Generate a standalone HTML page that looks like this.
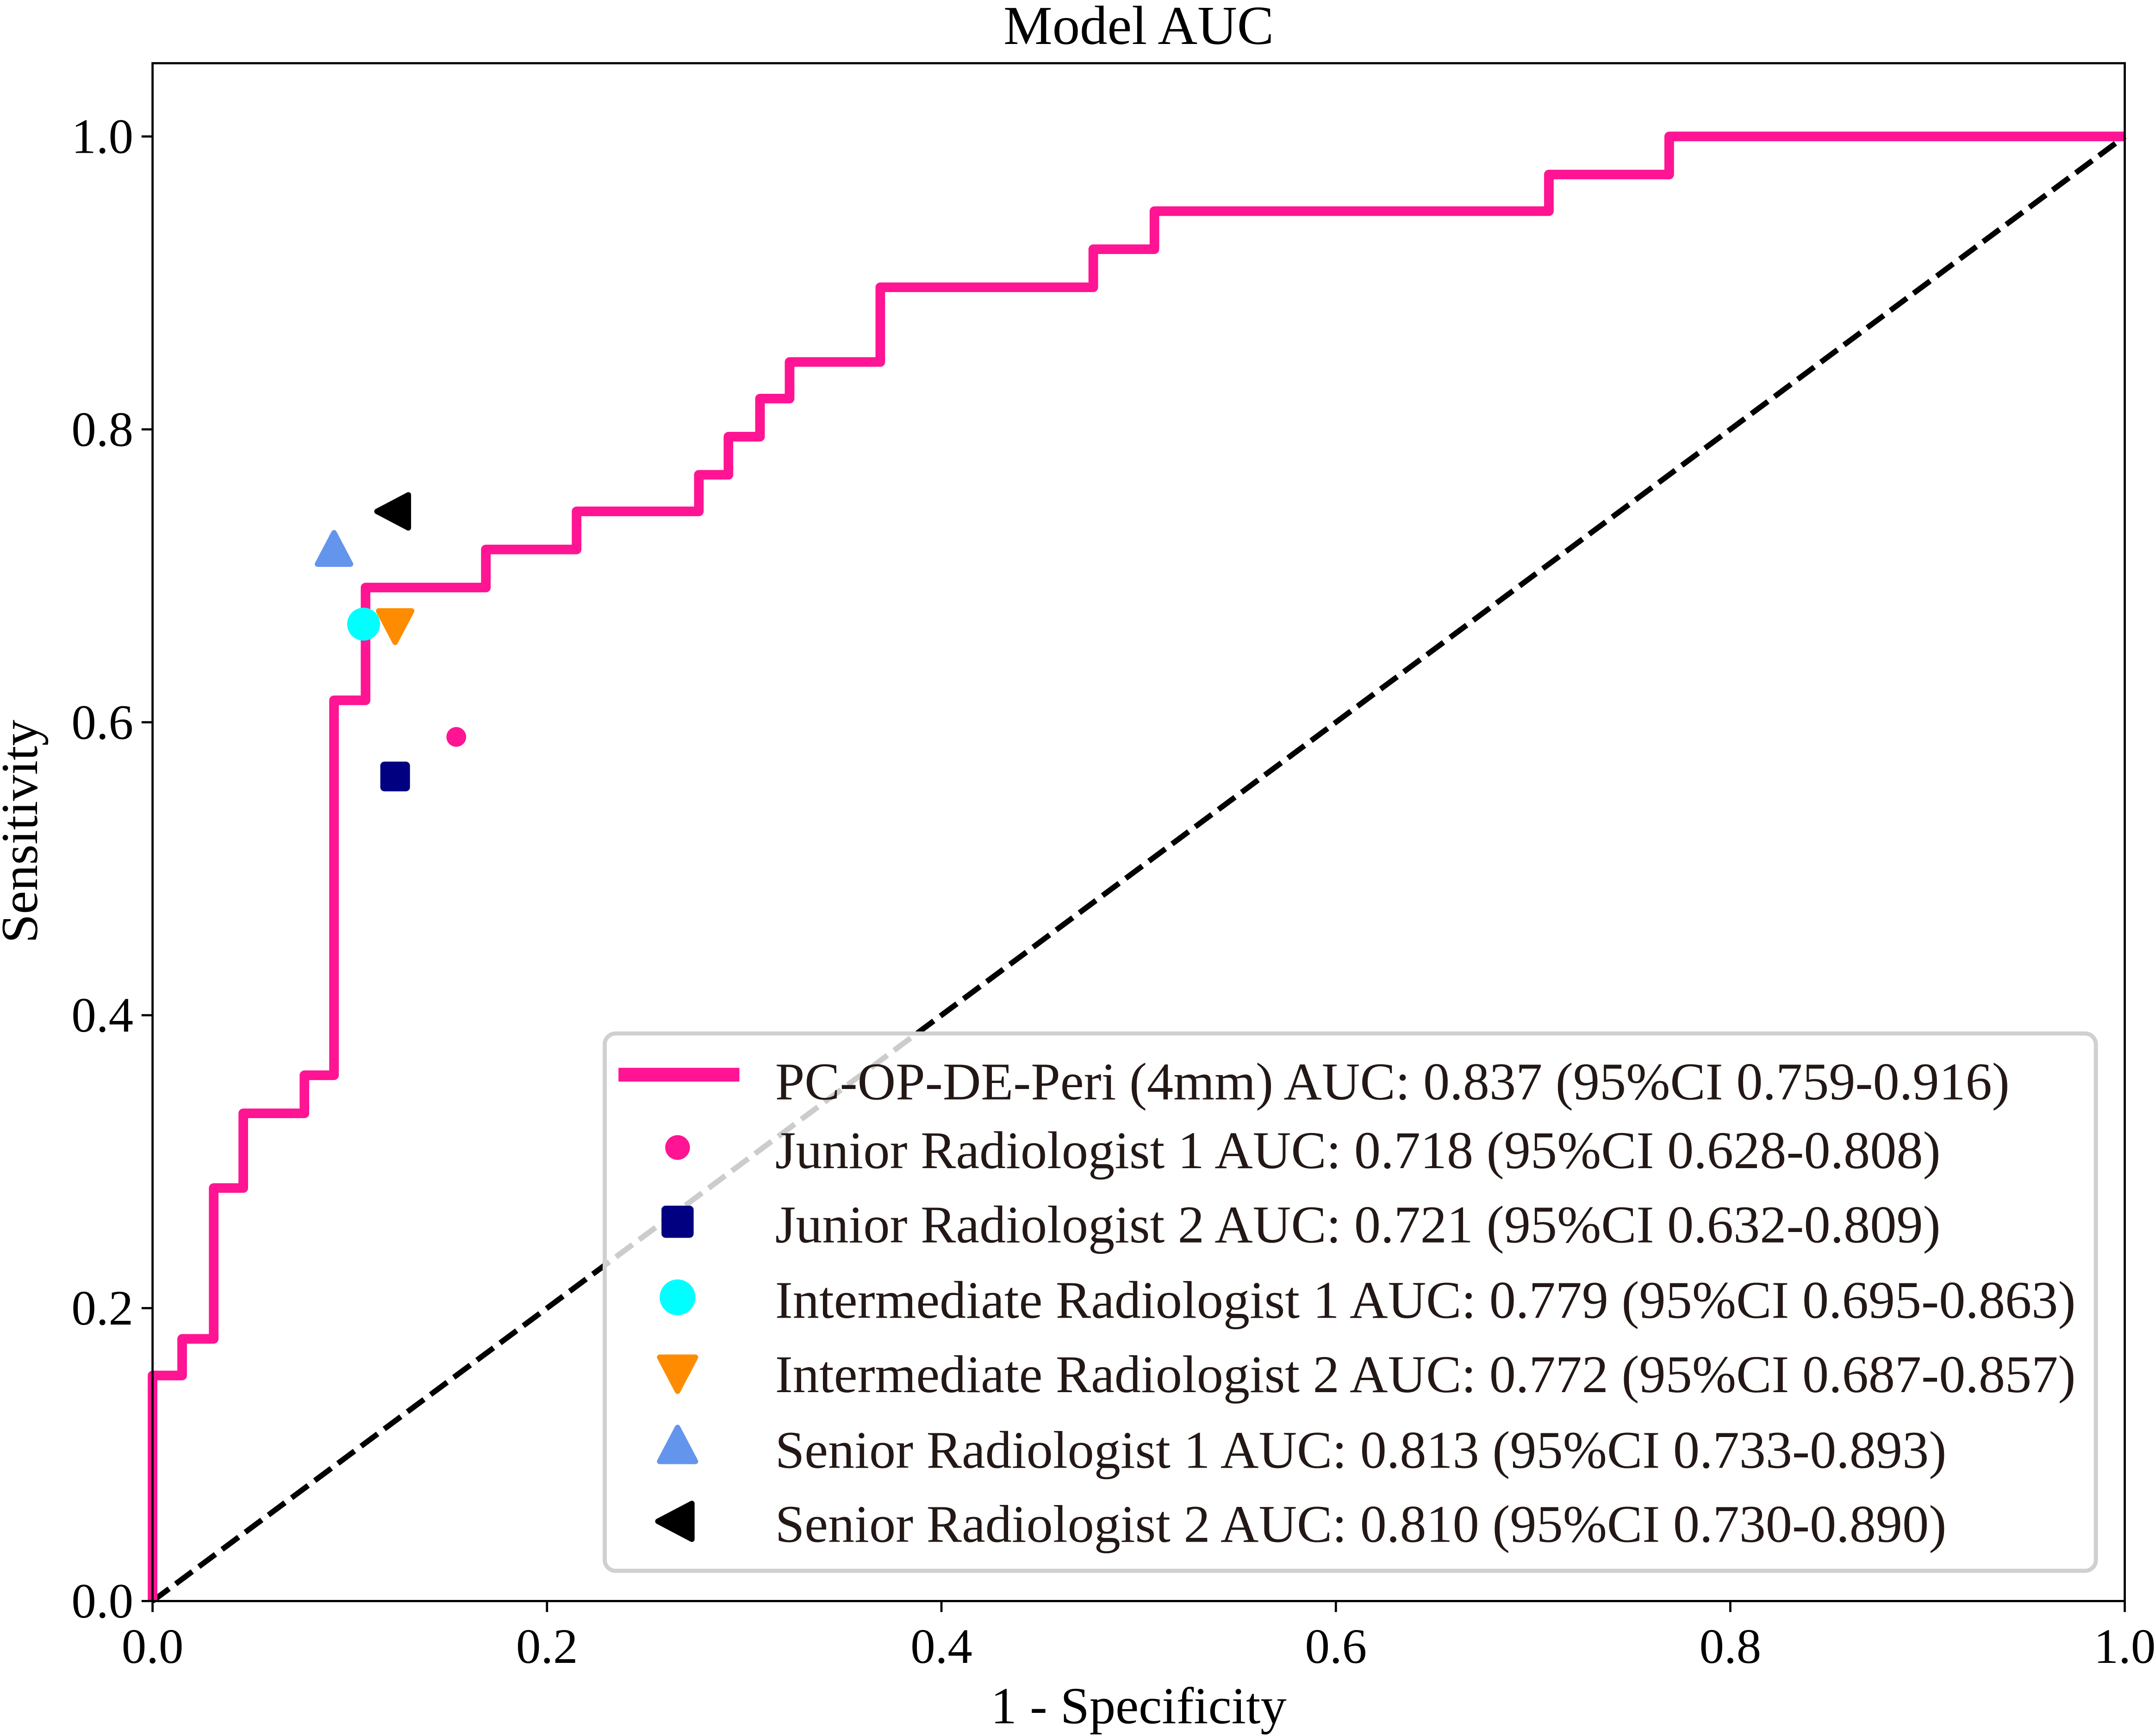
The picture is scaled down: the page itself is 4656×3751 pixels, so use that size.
<!DOCTYPE html>
<html><head><meta charset="utf-8"><style>
html,body{margin:0;padding:0;background:#fff;}
svg{display:block;font-family:"Liberation Serif",serif;}
</style></head><body>
<svg id="chart" width="4656" height="3751" viewBox="0 0 1568 1263.2" preserveAspectRatio="none" xmlns="http://www.w3.org/2000/svg">
<rect width="1568" height="1264" fill="#fff"/>
<g id="g"></g>
</svg>
<script>
const rocFpr=[0,0,0.015,0.015,0.031,0.031,0.046,0.046,0.077,0.077,0.092,0.092,0.108,0.108,0.169,0.169,0.215,0.215,0.277,0.277,0.292,0.292,0.308,0.308,0.323,0.323,0.369,0.369,0.477,0.477,0.508,0.508,0.708,0.708,0.769,0.769,1.0];
const rocTpr=[0,0.154,0.154,0.179,0.179,0.282,0.282,0.333,0.333,0.359,0.359,0.615,0.615,0.692,0.692,0.718,0.718,0.744,0.744,0.769,0.769,0.795,0.795,0.821,0.821,0.846,0.846,0.897,0.897,0.923,0.923,0.949,0.949,0.974,0.974,1.0,1.0];
const readerNames=["Junior Radiologist 1 AUC: 0.718 (95%CI 0.628-0.808)","Junior Radiologist 2 AUC: 0.721 (95%CI 0.632-0.809)","Intermediate Radiologist 1 AUC: 0.779 (95%CI 0.695-0.863)","Intermediate Radiologist 2 AUC: 0.772 (95%CI 0.687-0.857)","Senior Radiologist 1 AUC: 0.813 (95%CI 0.733-0.893)","Senior Radiologist 2 AUC: 0.810 (95%CI 0.730-0.890)"];
const readerFpr=[0.154,0.123,0.107,0.123,0.092,0.123];
const readerTpr=[0.590,0.563,0.667,0.667,0.717,0.744];
const readerColors=["#FF1493","#000080","#00FFFF","#FF8C00","#6495ED","#000000"];
const readerShapes=["smallcircle","square","circle","down","up","left"];
const modelLabel="PC-OP-DE-Peri (4mm) AUC: 0.837 (95%CI 0.759-0.916)";
const ticks=[0,0.2,0.4,0.6,0.8,1.0];
const tickLabels=["0.0","0.2","0.4","0.6","0.8","1.0"];

const L=111,R=1546,T=46,B=1165;
const X=v=>L+v*(R-L);
const Y=v=>B-v/1.05*(B-T);
const NS="http://www.w3.org/2000/svg";
const g=document.getElementById('g');
function el(tag,attrs,parent){const e=document.createElementNS(NS,tag);for(const k in attrs)e.setAttribute(k,attrs[k]);(parent||g).appendChild(e);return e;}
function txt(s,attrs){const e=el('text',attrs);e.textContent=s;return e;}
function marker(shape,cx,cy,color,s){
  let e;
  if(shape==="smallcircle")e=el('circle',{cx,cy,r:s*0.6,fill:color});
  else if(shape==="circle")e=el('circle',{cx,cy,r:s,fill:color});
  else if(shape==="square")e=el('rect',{x:cx-s*0.9,y:cy-s*0.9,width:s*1.8,height:s*1.8,rx:3,fill:color});
  else{let p;
    if(shape==="down")p=[[cx-s,cy-s*0.8],[cx+s,cy-s*0.8],[cx,cy+s*1.1]];
    else if(shape==="up")p=[[cx-s,cy+s*0.8],[cx+s,cy+s*0.8],[cx,cy-s*1.1]];
    else p=[[cx+s*0.8,cy-s],[cx+s*0.8,cy+s],[cx-s*1.1,cy]];
    e=el('polygon',{points:p.map(q=>q.join(',')).join(' '),fill:color,stroke:color,'stroke-width':4,'stroke-linejoin':'round'});}
  return e;
}

const diag=el('line',{x1:X(0),y1:Y(0),x2:X(1),y2:Y(1),stroke:'#000','stroke-width':4,'stroke-dasharray':'15,6'});



const roc=el('polyline',{points:rocFpr.map((f,i)=>X(f)+','+Y(rocTpr[i])).join(' '),fill:'none',stroke:'#FF1493','stroke-width':7,'stroke-linejoin':'round'});



readerFpr.forEach((f,i)=>{
  const m=marker(readerShapes[i],X(f),Y(readerTpr[i]),readerColors[i],12);
  
  
});

const fr=el('rect',{x:L,y:T,width:R-L,height:B-T,fill:'none',stroke:'#000','stroke-width':1.6});



ticks.forEach((v,i)=>{
  el('line',{x1:X(v),y1:B,x2:X(v),y2:B+8,stroke:'#000','stroke-width':1.6});
  const xt=txt(tickLabels[i],{x:X(v),y:B+45,'font-size':36,'text-anchor':'middle'});
  
  
  el('line',{x1:L-8,y1:Y(v),x2:L,y2:Y(v),stroke:'#000','stroke-width':1.6});
  const yt=txt(tickLabels[i],{x:L-14,y:Y(v)+12,'font-size':36,'text-anchor':'end'});
  
  
});

const ti=txt("Model AUC",{x:(L+R)/2,y:32,'font-size':40,'text-anchor':'middle'});


const xa=txt("1 - Specificity",{x:(L+R)/2,y:1254,'font-size':38,'text-anchor':'middle'});


const ya=txt("Sensitivity",{x:0,y:0,'font-size':38,'text-anchor':'middle',transform:'translate(27,605) rotate(-90)'});



const lg=el('rect',{x:440,y:752,width:1085,height:391,rx:8,fill:'#fff','fill-opacity':0.8,stroke:'#d0d0d0','stroke-width':3});


const rowY=[787,837,891,946,1000,1055,1109];
el('line',{x1:450,y1:782,x2:538,y2:782,stroke:'#FF1493','stroke-width':10});
const l0=txt(modelLabel,{x:564,y:800,'font-size':38.5,fill:'#231815'});


readerNames.forEach((n,i)=>{
  marker(readerShapes[i],493,rowY[i+1]-2,readerColors[i],i===0?15:13);
  const t=txt(n,{x:564,y:rowY[i+1]+13,'font-size':38.5,fill:'#231815'});
  
  
});
</script>
</body></html>
